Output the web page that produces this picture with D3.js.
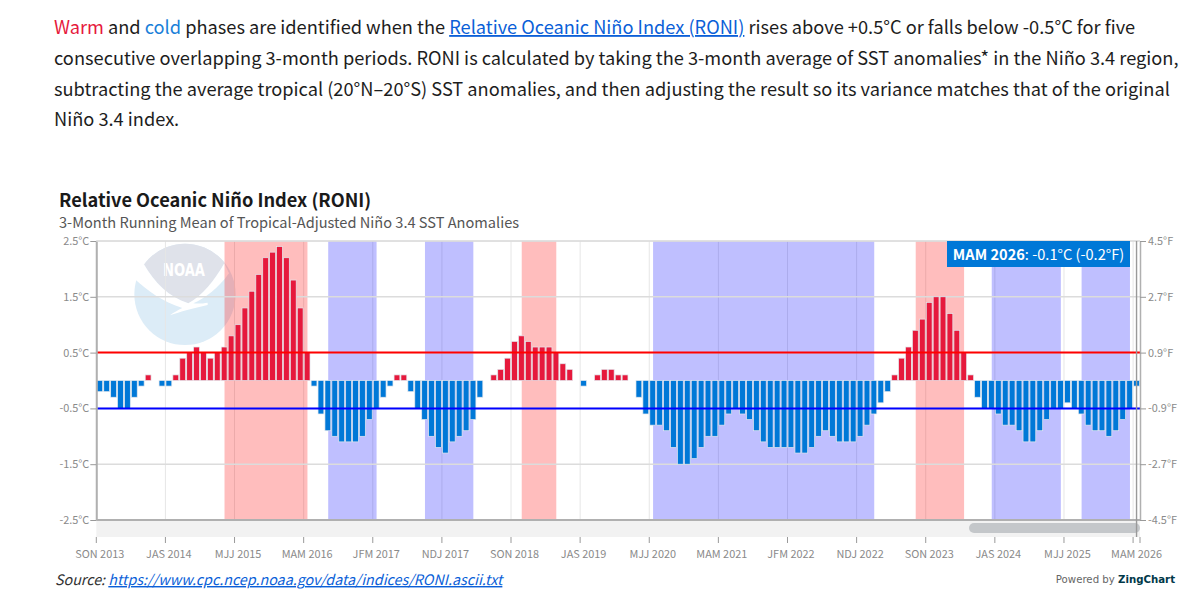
<!DOCTYPE html>
<html>
<head>
<meta charset="utf-8">
<script src="https://cdn.jsdelivr.net/npm/d3@7"></script>
<style>
  html, body { margin: 0; padding: 0; background: #fff; }
  svg { display: block; }
  text { font-family: "Noto Sans CJK JP", "Noto Sans", sans-serif; }
  .intro { font-size: 18.23px; fill: #1d1d1d; }
  .axis text { font-size: 10.9px; fill: #8a8a8a; }
  .link { fill: #0b5fd8; text-decoration: underline; }
</style>
</head>
<body>
<svg id="chart" width="1200" height="600"></svg>
<script>
// 3-month seasons, one row per year
var categories = [
  "SON 2013","OND 2013","NDJ 2013",
  "DJF 2014","JFM 2014","FMA 2014","MAM 2014","AMJ 2014","MJJ 2014","JJA 2014","JAS 2014","ASO 2014","SON 2014","OND 2014","NDJ 2014",
  "DJF 2015","JFM 2015","FMA 2015","MAM 2015","AMJ 2015","MJJ 2015","JJA 2015","JAS 2015","ASO 2015","SON 2015","OND 2015","NDJ 2015",
  "DJF 2016","JFM 2016","FMA 2016","MAM 2016","AMJ 2016","MJJ 2016","JJA 2016","JAS 2016","ASO 2016","SON 2016","OND 2016","NDJ 2016",
  "DJF 2017","JFM 2017","FMA 2017","MAM 2017","AMJ 2017","MJJ 2017","JJA 2017","JAS 2017","ASO 2017","SON 2017","OND 2017","NDJ 2017",
  "DJF 2018","JFM 2018","FMA 2018","MAM 2018","AMJ 2018","MJJ 2018","JJA 2018","JAS 2018","ASO 2018","SON 2018","OND 2018","NDJ 2018",
  "DJF 2019","JFM 2019","FMA 2019","MAM 2019","AMJ 2019","MJJ 2019","JJA 2019","JAS 2019","ASO 2019","SON 2019","OND 2019","NDJ 2019",
  "DJF 2020","JFM 2020","FMA 2020","MAM 2020","AMJ 2020","MJJ 2020","JJA 2020","JAS 2020","ASO 2020","SON 2020","OND 2020","NDJ 2020",
  "DJF 2021","JFM 2021","FMA 2021","MAM 2021","AMJ 2021","MJJ 2021","JJA 2021","JAS 2021","ASO 2021","SON 2021","OND 2021","NDJ 2021",
  "DJF 2022","JFM 2022","FMA 2022","MAM 2022","AMJ 2022","MJJ 2022","JJA 2022","JAS 2022","ASO 2022","SON 2022","OND 2022","NDJ 2022",
  "DJF 2023","JFM 2023","FMA 2023","MAM 2023","AMJ 2023","MJJ 2023","JJA 2023","JAS 2023","ASO 2023","SON 2023","OND 2023","NDJ 2023",
  "DJF 2024","JFM 2024","FMA 2024","MAM 2024","AMJ 2024","MJJ 2024","JJA 2024","JAS 2024","ASO 2024","SON 2024","OND 2024","NDJ 2024",
  "DJF 2025","JFM 2025","FMA 2025","MAM 2025","AMJ 2025","MJJ 2025","JJA 2025","JAS 2025","ASO 2025","SON 2025","OND 2025","NDJ 2025",
  "DJF 2026","JFM 2026","FMA 2026","MAM 2026"
];

var roni = [
  -0.2,-0.2,-0.3,-0.5,-0.5,-0.3,-0.1,0.1,0,-0.1,
  -0.1,0.1,0.4,0.5,0.6,0.5,0.4,0.5,0.6,0.8,
  1.0,1.3,1.6,1.9,2.2,2.3,2.4,2.2,1.8,1.3,
  0.5,-0.1,-0.6,-0.9,-1.0,-1.1,-1.1,-1.1,-1.0,-0.7,
  -0.5,-0.3,-0.1,0.1,0.1,-0.2,-0.5,-0.7,-1.0,-1.2,
  -1.3,-1.1,-1.0,-0.9,-0.7,-0.3,0,0.1,0.2,0.4,
  0.7,0.8,0.7,0.6,0.6,0.6,0.5,0.3,0.2,0,
  -0.1,0,0.1,0.2,0.2,0.1,0.1,0,-0.3,-0.6,
  -0.8,-0.8,-0.9,-1.2,-1.5,-1.5,-1.4,-1.2,-1.0,-1.0,
  -0.8,-0.6,-0.5,-0.6,-0.7,-0.9,-1.1,-1.2,-1.2,-1.2,
  -1.2,-1.3,-1.3,-1.2,-1.0,-0.9,-1.0,-1.1,-1.1,-1.1,
  -1.0,-0.8,-0.6,-0.4,-0.2,0.1,0.4,0.6,0.9,1.1,
  1.4,1.5,1.5,1.2,0.9,0.5,0.1,-0.3,-0.5,-0.5,
  -0.6,-0.8,-0.8,-0.9,-1.1,-1.1,-0.9,-0.7,-0.5,-0.5,
  -0.4,-0.5,-0.6,-0.8,-0.9,-0.9,-1.0,-0.9,-0.7,-0.5,
  -0.1
];

// start and end season of each phase
var warmPhases = [["MAM 2015", "MAM 2016"], ["OND 2018", "MAM 2019"], ["JAS 2023", "FMA 2024"]];
var coldPhases = [["JJA 2016", "JFM 2017"], ["ASO 2017", "MAM 2018"], ["MJJ 2020", "JFM 2023"],
  ["JJA 2024", "AMJ 2025"], ["JAS 2025", "FMA 2026"]];

var tickLabels = ["SON 2013","JAS 2014","MJJ 2015","MAM 2016","JFM 2017","NDJ 2017","SON 2018","JAS 2019",
  "MJJ 2020","MAM 2021","JFM 2022","NDJ 2022","SON 2023","JAS 2024","MJJ 2025","MAM 2026"];
var celsiusTicks = [-2.5, -1.5, -0.5, 0.5, 1.5, 2.5];
var fahrenheitTicks = [-4.5, -2.7, -0.9, 0.9, 2.7, 4.5];
var warmLimit = 0.5, coldLimit = -0.5;

var svg = d3.select("#chart"),
  margin = { top: 241, right: 60, bottom: 80, left: 96.3 };
var right = 1200 - margin.right, bottom = 600 - margin.bottom;

var x = d3.scaleBand().domain(categories).range([margin.left, right]).paddingInner(0.16).paddingOuter(0.08);
var y = d3.scaleLinear().domain([-2.5, 2.5]).range([bottom, margin.top]);
var yF = d3.scaleLinear().domain([-4.5, 4.5]).range([bottom, margin.top]);
var step = x.step();
var mid = function(c) { return x(c) + x.bandwidth() / 2; };

// intro paragraph
var intro = svg.append("text").attr("class", "intro");
var l1 = intro.append("tspan").attr("x", 54).attr("y", 34);
l1.append("tspan").style("fill", "#e6193c").text("Warm");
l1.append("tspan").text(" and ");
l1.append("tspan").style("fill", "#1a80d9").text("cold");
l1.append("tspan").text(" phases are identified when the ");
l1.append("tspan").attr("class", "link").text("Relative Oceanic Niño Index (RONI)");
l1.append("tspan").text(" rises above +0.5°C or falls below -0.5°C for five");
intro.append("tspan").attr("x", 54).attr("y", 65).text("consecutive overlapping 3-month periods. RONI is calculated by taking the 3-month average of SST anomalies* in the Niño 3.4 region,");
intro.append("tspan").attr("x", 54).attr("y", 95.5).text("subtracting the average tropical (20°N–20°S) SST anomalies, and then adjusting the result so its variance matches that of the original");
intro.append("tspan").attr("x", 54).attr("y", 126).text("Niño 3.4 index.");

// titles
svg.append("text").attr("x", 59).attr("y", 207).style("font-size", "18.2px").style("font-weight", 700).style("fill", "#1a1a1a")
  .text("Relative Oceanic Niño Index (RONI)");
svg.append("text").attr("x", 59).attr("y", 228).style("font-size", "14.6px").style("fill", "#555")
  .text("3-Month Running Mean of Tropical-Adjusted Niño 3.4 SST Anomalies");

// NOAA watermark
var logo = svg.append("g").attr("transform", "translate(125,240) scale(0.3333)");
logo.append("clipPath").attr("id", "logoClip").append("circle").attr("cx", 180).attr("cy", 163).attr("r", 152);
logo.append("circle").attr("cx", 180).attr("cy", 163).attr("r", 152).attr("fill", "#dcecf7");
logo.append("path").attr("clip-path", "url(#logoClip)").attr("fill", "#dfe2ea")
  .attr("d", "M55,70 C90,130 130,170 190,190 C230,170 270,120 298,70 L298,0 L20,0 Z");
logo.append("path").attr("fill", "#fff")
  .attr("d", "M30,118 L55,70 C90,130 130,170 190,190 C230,170 270,120 298,70 L312,100 C280,145 240,175 205,190 C220,192 235,190 248,188 L248,195 C205,205 165,215 135,226 C145,218 160,210 172,204 C110,185 65,150 30,118 Z");
logo.append("text").attr("x", 177).attr("y", 107).attr("text-anchor", "middle").attr("textLength", 126)
  .attr("lengthAdjust", "spacingAndGlyphs").style("font-family", "DejaVu Sans").style("font-size", "54px").style("font-weight", 700).style("fill", "#fff")
  .text("NOAA");

// vertical grid goes under the phase bands
svg.append("g").selectAll("line").data(tickLabels).enter().append("line")
  .attr("x1", function(d) { return x(d) - step * 0.08; })
  .attr("x2", function(d) { return x(d) - step * 0.08; })
  .attr("y1", margin.top).attr("y2", bottom)
  .attr("stroke", "#e6e6e6").attr("stroke-width", 1);

function bands(list, color) {
  svg.append("g").selectAll("rect").data(list).enter().append("rect")
    .attr("x", function(d) { return mid(d[0]) + step * 0.05; })
    .attr("width", function(d) { return mid(d[1]) - mid(d[0]); })
    .attr("y", margin.top).attr("height", bottom - margin.top)
    .attr("fill", color);
}
bands(warmPhases, "rgba(255,0,0,0.26)");
bands(coldPhases, "rgba(0,0,255,0.25)");

// horizontal grid
svg.append("g").selectAll("line").data(celsiusTicks.filter(function(d) { return d > -2.5; })).enter().append("line")
  .attr("x1", margin.left).attr("x2", right)
  .attr("y1", function(d) { return y(d); }).attr("y2", function(d) { return y(d); })
  .attr("stroke", "#dcdcdc").attr("stroke-width", 1.4);

// bars
svg.append("g").selectAll("rect").data(roni).enter().append("rect")
  .attr("x", function(d, i) { return x(categories[i]); })
  .attr("width", x.bandwidth())
  .attr("y", function(d) { return y(Math.max(d, 0)); })
  .attr("height", function(d) { return Math.abs(y(d) - y(0)); })
  .attr("fill", function(d) { return d > 0 ? "#e6193c" : "#0078d7"; })
  .attr("stroke", "#e3e8ee").attr("stroke-width", 0.7);

// threshold lines
svg.append("line").attr("x1", margin.left).attr("x2", right).attr("y1", y(warmLimit)).attr("y2", y(warmLimit))
  .attr("stroke", "#ff0000").attr("stroke-width", 2);
svg.append("line").attr("x1", margin.left).attr("x2", right).attr("y1", y(coldLimit)).attr("y2", y(coldLimit))
  .attr("stroke", "#0000ff").attr("stroke-width", 2);

// zoom track under the plot
svg.append("rect").attr("x", margin.left).attr("y", bottom).attr("width", right - margin.left).attr("height", 17).attr("fill", "#f2f2f2");
svg.append("rect").attr("x", 969).attr("y", bottom + 3).attr("width", right - 969).attr("height", 10).attr("rx", 5).attr("fill", "#c4c7ca");

// axes
var yAxisL = svg.append("g").attr("class", "axis").attr("transform", "translate(" + margin.left + ",0)")
  .call(d3.axisLeft(y).tickValues(celsiusTicks).tickFormat(function(d) { return d3.format(".1f")(d).replace("−", "-") + "°C"; }).tickSizeOuter(0).tickPadding(1));
var yAxisR = svg.append("g").attr("class", "axis").attr("transform", "translate(" + right + ",0)")
  .call(d3.axisRight(yF).tickValues(fahrenheitTicks).tickFormat(function(d) { return d3.format(".1f")(d).replace("−", "-") + "°F"; }).tickSizeOuter(0).tickPadding(2));
var xAxis = svg.append("g").attr("class", "axis").attr("transform", "translate(0," + (bottom + 17) + ")")
  .call(d3.axisBottom(x).tickValues(tickLabels).tickSizeOuter(0).tickPadding(5));
xAxis.selectAll("text").attr("dy", "0.95em");
// the ticks sit on the left edge of each step, labels stay centred
xAxis.selectAll(".tick line").attr("x1", -step / 2).attr("x2", -step / 2);
xAxis.select(".domain").remove();
xAxis.append("line").attr("x1", right).attr("x2", right).attr("y2", 6).attr("stroke", "#999");
svg.selectAll(".axis .tick line").attr("stroke", "#999");
yAxisL.select(".domain").attr("stroke", "#b0b0b0").attr("stroke-width", 2);
yAxisR.select(".domain").attr("stroke", "#b0b0b0").attr("stroke-width", 1.5);
svg.append("line").attr("x1", margin.left).attr("x2", right).attr("y1", bottom).attr("y2", bottom).attr("stroke", "#b0b0b0").attr("stroke-width", 2);
svg.append("line").attr("x1", margin.left).attr("x2", right).attr("y1", margin.top).attr("y2", margin.top).attr("stroke", "#dcdcdc").attr("stroke-width", 1);

// crosshair on the latest season
var last = categories[categories.length - 1];
svg.append("line").attr("x1", mid(last)).attr("x2", mid(last)).attr("y1", margin.top).attr("y2", bottom + 17)
  .attr("stroke", "#999").attr("stroke-width", 1.4);

// latest value label
svg.append("rect").attr("x", 947).attr("y", margin.top).attr("width", 183).attr("height", 26).attr("fill", "#0078d7");
var lab = svg.append("text").attr("x", 1038.5).attr("y", 259.5).attr("text-anchor", "middle").style("font-size", "14.6px").style("fill", "#fff");
lab.append("tspan").style("font-weight", 700).text(last);
lab.append("tspan").text(": -0.1°C (-0.2°F)");

// footer
var src = svg.append("text").attr("x", 55).attr("y", 585).style("font-size", "14.3px").style("font-style", "italic").style("fill", "#333");
src.append("tspan").text("Source: ");
src.append("tspan").attr("class", "link").text("https://www.cpc.ncep.noaa.gov/data/indices/RONI.ascii.txt");
var zc = svg.append("text").attr("x", 1175).attr("y", 583).attr("text-anchor", "end").style("font-family", "DejaVu Sans").style("font-size", "10.2px").style("fill", "#666");
zc.append("tspan").text("Powered by ");
zc.append("tspan").style("font-weight", 700).style("fill", "#003849").text("ZingChart");
</script>
</body>
</html>
